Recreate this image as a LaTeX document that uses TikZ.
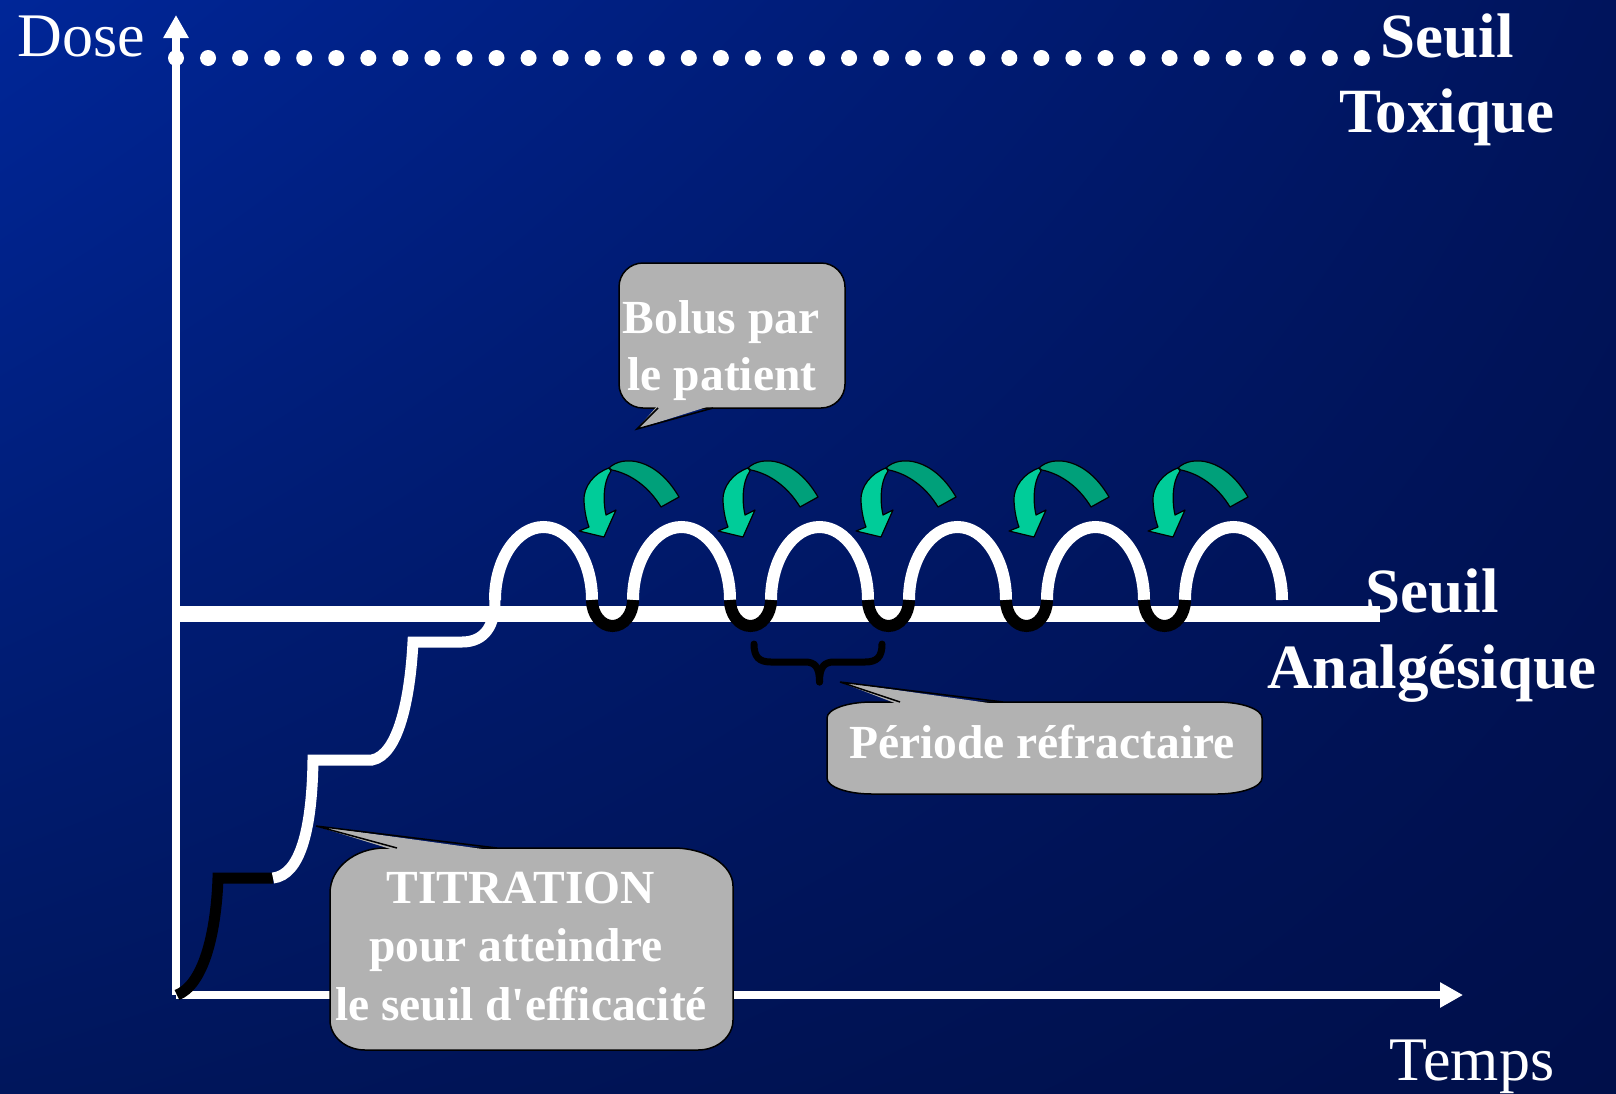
\documentclass[tikz,border=0pt]{standalone}
\usepackage{fontspec}
\setmainfont{Liberation Serif}[Ligatures=TeXOff]
\usetikzlibrary{arrows.meta,shadings}

\definecolor{bgTL}{RGB}{0,38,152}
\definecolor{bgTR}{RGB}{0,20,92}
\definecolor{bgBL}{RGB}{0,22,92}
\definecolor{bgBR}{RGB}{0,15,74}
\definecolor{bubblegrey}{RGB}{178,178,178}
\definecolor{arrowlight}{RGB}{0,204,153}
\definecolor{arrowdark}{RGB}{0,160,122}

\tikzset{
  bolusarrow/.pic={
    % back (darker) part of the curved arrow
    \filldraw[fill=arrowdark, draw=black, line width=1.2pt, line join=round]
      (5,-69) .. controls (18,-82) and (52,-80) .. (75,-40) -- (57,-30)
      .. controls (45,-50) and (27,-63) .. (8,-67) -- cycle;
    % front (lighter) part with the head
    \filldraw[fill=arrowlight, draw=black, line width=1.2pt, line join=round]
      (5,-69) .. controls (-10,-64) and (-21,-50) .. (-20,-36)
      .. controls (-19.5,-25) and (-17,-15) .. (-15,-10) -- (-25,-6) -- (0,0)
      -- (12,-27) -- (2,-22) .. controls (-1,-35) and (-1,-55) .. (7,-66) -- cycle;
  }
}

\begin{document}
\begin{tikzpicture}[x=1pt, y=-1pt,
  axisline/.style={draw=white, line width=8.5pt, -{Triangle[width=24pt,length=23pt]}},
  thresholdline/.style={draw=white, line width=16pt},
  curvewhite/.style={draw=white, line width=12pt},
  curveblack/.style={draw=black, line width=12pt},
  titrwhite/.style={draw=white, line width=11pt},
  titrblack/.style={draw=black, line width=11pt},
  bubblebox/.style={draw=black, line width=1.5pt, fill=bubblegrey},
  tailedge/.style={draw=black, line width=1.5pt},
  bubbletext/.style={text=white, font=\fontsize{47.5}{47.5}\selectfont\bfseries, inner sep=0pt, anchor=base},
  bigbold/.style={text=white, font=\fontsize{63}{63}\selectfont\bfseries, inner sep=0pt, anchor=base},
  axislabel/.style={text=white, font=\fontsize{62}{62}\selectfont, inner sep=0pt, anchor=base},
  bracestroke/.style={draw=black, line width=7pt, line cap=round, line join=round},
]
\useasboundingbox (0,0) rectangle (1616,1093);
\shade[upper left=bgTL, upper right=bgTR, lower left=bgBL, lower right=bgBR]
  (0,0) rectangle (1616,1093);

% toxic threshold (dotted)
\foreach \k in {0,...,37}
  \fill[white] ({176+32.05*\k},58) circle[radius=8pt];

% axes
\coordinate (O) at (176,995);
\coordinate (ytop) at (176,15);
\coordinate (xend) at (1463,995);
\draw[axisline] (O) -- (ytop);
\draw[axisline] (O) -- (xend);

% analgesic threshold
\coordinate (anaL) at (176,614);
\coordinate (anaR) at (1380,614);
\draw[thresholdline] (anaL) -- (anaR);

% titration steps
\draw[titrblack] (177,995) .. controls (203,985) and (216,935) .. (218,878) -- (273,878);
\draw[titrwhite] (273,878) .. controls (300,875) and (312,830) .. (313,760) -- (372,760)
  .. controls (398,755) and (410,700) .. (413,642) -- (462,642)
  .. controls (485,642) and (495,625) .. (495,600);

% oscillations around the analgesic threshold
\foreach \k in {0,...,5}
  \draw[curvewhite] ({495+138*\k},600) arc[start angle=180, end angle=0, x radius=48.5pt, y radius=73pt];
\foreach \k in {0,...,4}
  \draw[curveblack] ({592+138*\k},600) arc[start angle=180, end angle=360, x radius=20.5pt, y radius=26pt];

% patient boluses
\pic (bolusA) at (604,537) {bolusarrow};
\pic (bolusB) at (743,537) {bolusarrow};
\pic (bolusC) at (881,537) {bolusarrow};
\pic (bolusD) at (1034,537) {bolusarrow};
\pic (bolusE) at (1173,537) {bolusarrow};

% refractory period brace
\coordinate (braceL) at (754,644);
\coordinate (braceR) at (882,644);
\coordinate (braceTip) at (819.5,682);
\draw[bracestroke] (braceL) .. controls (754,657) and (759,662) .. (771,662) -- (805,662)
  .. controls (815,662) and (819.5,667) .. (braceTip);
\draw[bracestroke] (braceR) .. controls (882,657) and (877,662) .. (865,662) -- (834,662)
  .. controls (824,662) and (819.5,667) .. (braceTip);

% callout: bolus
\node[bubblebox, rounded corners=24pt, minimum width=226pt, minimum height=145pt, inner sep=0pt] (bolusbox) at (732,335.5) {};
\coordinate (bolustip) at (637,429);
\fill[bubblegrey] (658,405) -- (bolustip) -- (713,405) -- cycle;
\draw[tailedge] (658,408) -- (bolustip) -- (713,408);
\node[bubbletext] (bolus1) at (721,333) {Bolus par};
\node[bubbletext] (bolus2) at (722,390) {le patient};

% callout: refractory period
\filldraw[bubblebox] (872,702) -- (1217,702)
  arc[start angle=90, end angle=0, x radius=45pt, y radius=16pt] -- (1262,778)
  arc[start angle=0, end angle=-90, x radius=45pt, y radius=16pt] -- (872,794)
  arc[start angle=-90, end angle=-180, x radius=45pt, y radius=16pt] -- (827,718)
  arc[start angle=180, end angle=90, x radius=45pt, y radius=16pt] -- cycle;
\coordinate (periodtip) at (840,682);
\fill[bubblegrey] (900,705) -- (periodtip) -- (1003,705) -- cycle;
\draw[tailedge] (900,702) -- (periodtip) -- (1003,702);
\node[bubbletext] (period) at (1042,758) {Période réfractaire};

% callout: titration
\filldraw[bubblebox] (385,848) -- (673,848)
  arc[start angle=90, end angle=0, x radius=60pt, y radius=38pt] -- (733,1020)
  arc[start angle=0, end angle=-90, x radius=35pt, y radius=30pt] -- (365,1050)
  arc[start angle=-90, end angle=-180, x radius=35pt, y radius=30pt] -- (330,893)
  arc[start angle=180, end angle=90, x radius=55pt, y radius=45pt] -- cycle;
\coordinate (titrtip) at (316,826);
\fill[bubblegrey] (397,851) -- (titrtip) -- (497,851) -- cycle;
\draw[tailedge] (397,848) -- (titrtip) -- (497,848);
\node[bubbletext] (titr1) at (521,903) {TITRATION};
\node[bubbletext] (titr2) at (516,961) {pour atteindre};
\node[bubbletext] (titr3) at (521,1020) {le seuil d'efficacité};

% labels
\node[axislabel] (dose) at (81,56) {Dose};
\node[axislabel] (temps) at (1472,1080) {Temps};
\node[bigbold] (toxA) at (1447,57) {Seuil};
\node[bigbold] (toxB) at (1447,132) {Toxique};
\node[bigbold] (anaA) at (1432,612) {Seuil};
\node[bigbold] (anaB) at (1432,688) {Analgésique};
\end{tikzpicture}
\end{document}
